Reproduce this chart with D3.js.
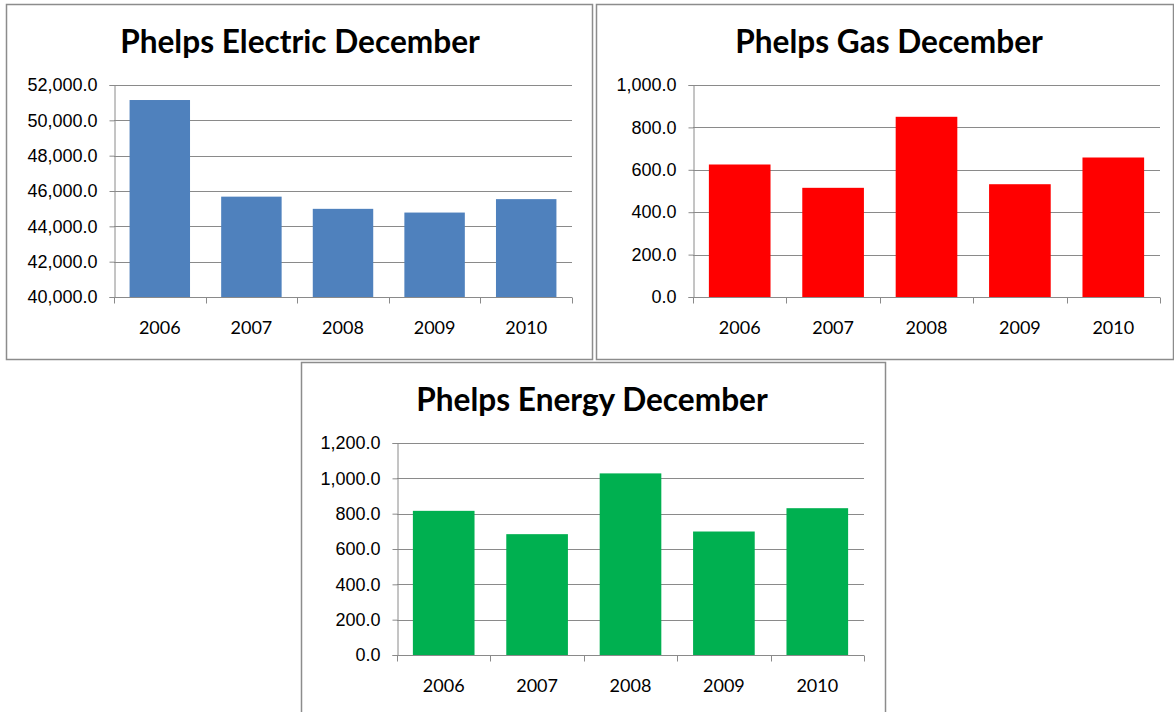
<!DOCTYPE html>
<html>
<head>
<meta charset="utf-8">
<script src="https://cdn.jsdelivr.net/npm/d3@7"></script>
<style>
  body { margin: 0; background: #fff; }
  svg { display: block; font-family: Lato, "Open Sans", sans-serif; }
</style>
</head>
<body>
<div id="chart"></div>
<script>
const years = ["2006", "2007", "2008", "2009", "2010"];
const electric = [51150, 45680, 44990, 44780, 45540];
const gas = [625, 515, 850, 532, 658];
const energy = [816, 684, 1028, 699, 831];
const electricTicks = [40000, 42000, 44000, 46000, 48000, 50000, 52000];
const gasTicks = [0, 200, 400, 600, 800, 1000];
const energyTicks = [0, 200, 400, 600, 800, 1000, 1200];

const width = 1174, height = 712;
const fmt = d3.format(",.1f");

const svg = d3.select("#chart")
    .append("svg")
    .attr("width", width)
    .attr("height", height);

const panels = [
    { title: "Phelps Electric December", values: electric, ticks: electricTicks, color: "#4F81BD",
      box: [6, 4, 586, 355], plot: [114, 572, 85, 297], titleX: 300, titleY: 53, titleW: 360 },
    { title: "Phelps Gas December", values: gas, ticks: gasTicks, color: "#FF0000",
      box: [596, 4, 577, 355], plot: [693, 1160, 85, 297], titleX: 889, titleY: 53, titleW: 308 },
    { title: "Phelps Energy December", values: energy, ticks: energyTicks, color: "#00B050",
      box: [301, 362, 584, 360], plot: [397, 864, 443, 655], titleX: 592, titleY: 411, titleW: 352 }
];

panels.forEach(p => {
    const g = svg.append("g");
    const [l, r, t, b] = p.plot;

    // panel frame
    g.append("rect")
        .attr("x", p.box[0] + 0.5).attr("y", p.box[1] + 0.5)
        .attr("width", p.box[2]).attr("height", p.box[3])
        .attr("fill", "#fff")
        .attr("stroke", "#8c8c8c")
        .attr("stroke-width", 1.5);

    const x = d3.scaleBand().domain(years).range([l, r]).paddingInner(0.34).paddingOuter(0.17);
    const xCat = d3.scaleBand().domain(years).range([l, r]).padding(0);
    const y = d3.scaleLinear().domain(d3.extent(p.ticks)).range([b, t]);

    // gridlines
    g.append("g")
        .selectAll("line")
        .data(p.ticks)
        .join("line")
        .attr("x1", l).attr("x2", r)
        .attr("y1", d => Math.round(y(d)) + 0.5).attr("y2", d => Math.round(y(d)) + 0.5)
        .attr("stroke", "#8a8a8a");

    // bars
    g.append("g")
        .selectAll("rect")
        .data(years)
        .join("rect")
        .attr("x", d => x(d))
        .attr("width", x.bandwidth())
        .attr("y", (d, i) => y(p.values[i]))
        .attr("height", (d, i) => y(y.domain()[0]) - y(p.values[i]))
        .attr("fill", p.color);

    // y axis
    const yAxis = g.append("g")
        .attr("transform", `translate(${l + 0.5},0)`)
        .call(d3.axisLeft(y).tickValues(p.ticks).tickFormat(fmt).tickSize(5).tickPadding(12));
    yAxis.select(".domain").attr("stroke", "#8a8a8a");
    yAxis.selectAll(".tick line").attr("stroke", "#8a8a8a");
    yAxis.selectAll("text").style("font-size", "18px").attr("fill", "#000");

    // x axis: ticks at category boundaries
    const xg = g.append("g").attr("transform", `translate(0,${Math.round(b) + 0.5})`);
    xg.append("line").attr("x1", l).attr("x2", r).attr("stroke", "#8a8a8a");
    xg.selectAll("line.tk")
        .data(years.concat(["end"]))
        .join("line")
        .attr("class", "tk")
        .attr("x1", (d, i) => Math.round(i < years.length ? xCat(d) : r) + 0.5)
        .attr("x2", (d, i) => Math.round(i < years.length ? xCat(d) : r) + 0.5)
        .attr("y1", 0).attr("y2", 6)
        .attr("stroke", "#8a8a8a");
    xg.selectAll("text")
        .data(years)
        .join("text")
        .attr("x", d => xCat(d) + xCat.bandwidth() / 2)
        .attr("y", 36)
        .attr("text-anchor", "middle")
        .style("font-size", "18px")
        .text(d => d);

    // title, sized to match reference width
    const title = g.append("text")
        .attr("x", p.titleX)
        .attr("y", p.titleY)
        .attr("text-anchor", "middle")
        .style("font-weight", "bold")
        .style("font-size", "30px")
        .text(p.title);
    const w = title.node().getComputedTextLength();
    title.style("font-size", (30 * p.titleW / w).toFixed(1) + "px");
});
</script>
</body>
</html>
